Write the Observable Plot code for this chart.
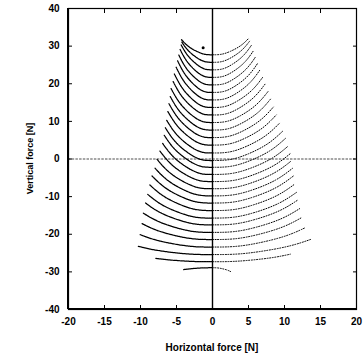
<!DOCTYPE html>
<html><head><meta charset="utf-8">
<script src="https://cdn.jsdelivr.net/npm/d3@7"></script>
<script src="https://cdn.jsdelivr.net/npm/@observablehq/plot@0.6"></script>
<style>body{margin:0;background:#fff} #chart{width:364px;height:359px}</style>
</head><body><div id="chart"></div>
<script>
// Centre level (y at x = 0) of each curve, in N
const levels = [27.7, 25.7, 23.7, 21.7, 19.7, 17.7, 15.7, 13.7, 11.7, 9.7,
  7.7, 5.7, 3.7, 1.6, -0.4, -2.2, -4.1, -6.0, -7.9, -9.8,
  -11.7, -13.7, -15.7, -17.5, -19.5, -21.4, -23.4, -25.4, -27.3, -28.9];
// End of the left (dense) arm of each curve
const leftEndX = [-4.3, -4.3, -4.35, -4.5, -4.7, -4.85, -5.05, -5.3, -5.5, -5.75,
  -5.9, -6.05, -6.2, -6.4, -6.55, -6.7, -6.95, -7.3, -7.7, -8.05,
  -8.4, -8.7, -9.0, -9.3, -9.6, -9.85, -10.05, -10.3, -7.9, -4.0];
const leftEndY = [31.7, 31.2, 30.3, 29.1, 27.7, 26.1, 24.4, 22.6, 20.7, 18.7,
  16.7, 14.7, 12.6, 10.4, 8.3, 6.3, 4.2, 2.1, -0.1, -2.3,
  -4.5, -6.9, -9.4, -11.7, -14.4, -17.1, -20.1, -23.2, -26.4, -29.4];
// End of the right (sparse) arm of each curve
const rightEndX = [5.0, 5.15, 5.4, 5.7, 6.0, 6.3, 6.6, 7.0, 7.3, 7.7,
  8.05, 8.45, 8.85, 9.3, 9.75, 10.15, 10.55, 10.85, 10.95, 11.1,
  11.25, 11.4, 11.65, 11.85, 12.1, 12.45, 12.95, 13.6, 10.8, 2.5];
const rightEndY = [32.0, 31.3, 30.2, 28.8, 27.2, 25.5, 23.7, 21.8, 19.9, 17.9,
  15.9, 13.8, 11.7, 9.5, 7.4, 5.5, 3.5, 1.5, -0.5, -2.5,
  -4.5, -6.7, -8.9, -10.9, -13.2, -15.5, -18.2, -21.4, -25.3, -29.9];
// Single point at the top
const topPoint = [{x: -1.3, y: 29.6}];
const xTicks = [-20, -15, -10, -5, 0, 5, 10, 15, 20];
const yTicks = [-40, -30, -20, -10, 0, 10, 20, 30, 40];
const xLabel = "Horizontal force [N]";
const yLabel = "Vertical force [N]";

// B-spline control polygons (rounded arcs) from the read end points
const bend = [[0, 0], [0.25, 0], [0.5, 0.2], [0.8, 0.55], [1, 1]];
const leftArms = [], rightArms = [];
levels.forEach((c, i) => {
  const xl = leftEndX[i], hl = leftEndY[i] - c;
  bend.forEach(([fx, fy]) => leftArms.push({id: i, x: fx * xl, y: c + fy * hl}));
  const xr = rightEndX[i], hr = rightEndY[i] - c;
  bend.forEach(([fx, fy]) => rightArms.push({id: i, x: fx * xr, y: c + fy * hr}));
});

const fmt = d => String(d);
const plot = Plot.plot({
  width: 364, height: 359,
  marginTop: 8, marginRight: 8, marginBottom: 50, marginLeft: 68,
  style: {fontFamily: "'Liberation Sans', Arial, sans-serif", fontSize: "10px", fontWeight: "bold", background: "#fff", color: "#000"},
  x: {domain: [-20, 20]},
  y: {domain: [-40, 40]},
  marks: [
    Plot.ruleY([0], {stroke: "#000", strokeWidth: 0.7, strokeDasharray: "2.5,1.2"}),
    Plot.ruleX([0], {stroke: "#000", strokeWidth: 1.4}),
    Plot.line(leftArms, {x: "x", y: "y", z: "id", curve: "basis", stroke: "#000", strokeWidth: 1.25, strokeDasharray: "1.6,0.7"}),
    Plot.line(rightArms, {x: "x", y: "y", z: "id", curve: "basis", stroke: "#000", strokeWidth: 1, strokeDasharray: "1,1.6"}),
    Plot.dot(topPoint, {x: "x", y: "y", r: 1.5, fill: "#000", stroke: null}),
    Plot.frame({stroke: "#000", strokeWidth: 1.2}),
    Plot.axisX({anchor: "bottom", ticks: xTicks, tickSize: 0, tickPadding: 8, tickFormat: fmt, label: null}),
    Plot.axisX({anchor: "bottom", ticks: xTicks, tickSize: -4, tickFormat: () => "", label: null}),
    Plot.axisX({anchor: "top", ticks: xTicks, tickSize: -4, tickFormat: () => "", label: null}),
    Plot.axisY({anchor: "left", ticks: yTicks, tickSize: 0, tickPadding: 9, tickFormat: fmt, label: null}),
    Plot.axisY({anchor: "left", ticks: yTicks, tickSize: -4, tickFormat: () => "", label: null}),
    Plot.axisY({anchor: "right", ticks: yTicks, tickSize: -4, tickFormat: () => "", label: null})
  ]
});
const svg = d3.select(plot);
const sx = plot.scale("x"), sy = plot.scale("y");
// heavier left and bottom axis lines
svg.append("line").attr("x1", sx.apply(-20)).attr("x2", sx.apply(-20)).attr("y1", sy.apply(40)).attr("y2", sy.apply(-40)).attr("stroke", "#000").attr("stroke-width", 2);
svg.append("line").attr("x1", sx.apply(-20)).attr("x2", sx.apply(20)).attr("y1", sy.apply(-40)).attr("y2", sy.apply(-40)).attr("stroke", "#000").attr("stroke-width", 2);
svg.append("text").attr("x", sx.apply(0)).attr("y", 351).attr("text-anchor", "middle")
  .attr("font-size", 10).attr("font-weight", "bold").attr("fill", "#000").text(xLabel);
svg.append("text").attr("transform", `translate(33,${sy.apply(0)}) rotate(-90)`).attr("text-anchor", "middle")
  .attr("font-size", 9).attr("font-weight", "bold").attr("fill", "#000").text(yLabel);
document.getElementById("chart").appendChild(plot);
</script>
</body></html>
